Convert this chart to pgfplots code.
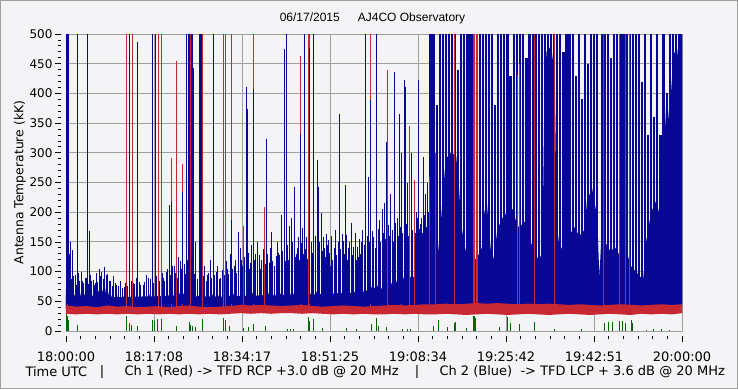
\documentclass[border=0pt]{standalone}
\usepackage{fontspec}
\setmainfont{DejaVu Sans}
\newfontfamily\titlefont{Liberation Sans}
\usepackage{pgfplots}
\pgfplotsset{compat=1.18}
\usepackage{pgfplotstable}
\definecolor{cblue}{RGB}{8,8,150}
\definecolor{cred}{RGB}{200,40,52}
\definecolor{cgreen}{RGB}{0,105,0}
\definecolor{gridgray}{RGB}{160,160,160}
\definecolor{bg}{RGB}{244,244,246}

% sparse blue spikes (minutes after 18:00, kK)
\pgfplotstableread{
t h
0.05 500
0.2 500
0.4 500
0.55 500
0.75 130
0.95 150
1.25 136
1.8 95
2.2 500
2.6 85
3.0 100
3.5 80
3.9 90
4.16 500
4.55 168
5.0 85
5.6 78
6.2 82
6.8 92
7.3 88
7.9 95
8.4 84
9.0 76
9.6 80
10.3 76
11.0 72
12.34 500
13.1 80
14.0 487
14.6 78
15.3 82
16.1 90
16.8 500
17.4 500
19.0 90
19.5 100
20.1 212
20.55 218
21.1 110
21.9 125
22.7 234
23.5 500
23.95 500
24.1 500
24.45 500
24.6 500
24.8 442
25.3 150
25.95 500
26.15 500
26.35 500
27.0 110
27.6 95
28.2 120
28.7 500
29.3 100
30.1 90
31.4 105
32.2 187
32.9 110
33.6 167
34.2 120
35.1 411
35.3 374
35.8 105
36.45 408
37.0 130
37.3 150
38.1 120
39.0 324
39.6 115
40.0 167
40.6 110
41.3 131
41.95 195
42.55 475
42.9 500
43.3 120
43.6 176
44.0 190
44.5 242
44.9 130
45.2 159
45.65 332
46.1 173
46.4 500
46.8 159
47.5 476
48.3 500
48.7 140
49.0 288
49.2 242
49.7 198
50.3 139
50.7 164
51.2 153
51.6 110
52.0 120
52.5 170
53.2 365
53.5 125
53.8 164
54.4 246
54.8 120
55.1 130
55.6 181
56.1 142
56.6 119
57.0 125
57.6 150
58.4 500
59.0 260
59.4 389
59.9 159
60.5 500
61.0 187
61.6 205
62.1 215
62.5 319
63.2 230
63.95 436
64.5 190
64.9 366
65.3 300
65.95 422
66.2 411
66.6 250
67.3 300
68.2 200
68.6 423
69.2 190
69.7 293
70.1 230
70.5 250
}\bluespikes

% small blue spikes (grass above the noise floor)
\pgfplotstableread{
t h
0.25 95
1.0 88
1.5 92
2.0 78
2.5 98
3.3 84
3.7 90
4.3 79
4.8 95
5.3 86
5.8 80
6.0 97
6.5 104
7.0 99
7.5 108
8.0 96
8.7 85
9.3 92
9.9 78
10.6 84
11.3 74
11.6 80
12.0 76
12.7 85
13.4 79
13.7 90
14.3 83
15.0 78
15.6 94
16.4 88
17.0 80
17.7 92
18.2 85
18.8 97
19.2 84
19.8 104
20.3 95
20.8 110
21.4 98
21.7 90
22.2 118
22.4 105
23.0 112
23.2 96
23.7 120
25.0 96
25.6 88
26.7 92
27.3 84
27.8 98
28.4 90
29.0 94
29.6 110
29.9 88
30.4 102
30.8 95
31.2 118
31.7 96
32.0 130
32.5 105
33.0 120
33.3 98
33.9 140
34.4 110
34.8 125
35.5 132
36.0 115
36.2 145
36.8 120
37.6 128
37.9 105
38.4 138
38.9 112
39.3 130
39.8 140
40.3 118
40.9 126
41.1 150
41.6 128
42.2 135
42.8 118
43.1 145
43.9 130
44.2 150
44.7 125
45.0 140
45.4 120
45.9 148
46.3 130
46.6 138
47.0 122
47.8 150
48.1 132
48.5 160
48.9 128
49.4 150
49.9 135
50.1 158
50.5 124
50.9 145
51.4 132
51.8 160
52.2 140
52.7 128
53.0 150
53.4 138
54.0 152
54.2 130
54.6 162
55.0 140
55.3 150
55.8 128
56.3 165
56.8 142
57.2 155
57.4 130
57.8 170
58.1 145
58.7 160
59.2 150
59.6 168
60.2 140
60.8 172
61.3 150
61.8 165
62.3 155
62.8 178
63.0 160
63.5 170
63.7 150
64.2 182
64.7 160
65.1 175
65.6 165
66.4 180
66.8 160
67.0 190
67.5 170
67.8 185
68.0 165
68.4 190
68.8 172
69.0 180
69.4 165
69.9 195
70.3 175
70.7 200
}\grass

% dense blue spikes
\pgfplotstableread{
t h
71.0 500
71.6 500
72.2 380
72.8 500
73.4 500
74.0 500
74.6 500
75.2 500
75.8 500
76.4 440
77.0 500
77.6 500
78.2 500
78.8 500
79.4 500
80.0 500
80.6 500
81.2 500
81.8 500
82.4 500
83.0 500
83.6 380
84.2 500
84.8 500
85.4 500
86.0 500
86.6 430
87.2 500
87.8 500
88.5 500
89.1 500
89.7 460
90.3 500
90.9 500
91.5 500
92.1 500
92.7 500
93.3 500
93.9 500
94.5 500
95.1 500
95.7 500
96.3 500
96.9 470
97.5 500
98.1 500
98.7 500
99.3 430
99.9 500
100.5 390
101.1 500
101.7 450
102.3 500
102.9 500
103.5 500
104.4 500
105.0 500
105.6 500
106.2 460
106.8 500
107.4 500
108.0 500
108.6 500
109.2 500
109.8 500
110.4 500
111.0 500
111.6 500
112.2 420
112.8 500
113.4 330
114.0 500
114.6 360
115.2 500
115.8 330
116.4 500
117.0 400
117.6 500
118.2 500
118.8 500
119.4 500
119.9 500
}\densespikes

% red spikes
\pgfplotstableread{
t h
0.3 500
11.8 500
12.9 500
18.05 500
18.55 500
20.55 292
21.6 455
22.7 281
24.25 500
26.5 500
30.7 500
31.1 500
32.2 500
34.5 176
36.5 500
38.7 209
45.65 463
47.25 500
47.4 500
59.4 500
62.6 439
65.3 215
66.9 345
67.9 254
70.8 260
72.0 300
75.6 500
79.3 500
79.6 500
79.9 500
80.2 500
87.9 431
88.3 450
91.2 500
95.2 500
104.8 500
107.9 500
108.9 500
109.8 500
}\redspikes

% green channel spikes
\pgfplotstableread{
t h
0.05 28
0.2 26
0.35 22
0.5 18
2.2 10
11.7 25
12.3 14
12.8 10
14.0 8
16.9 18
17.3 17
17.9 21
18.6 21
21.6 8
24.0 15
24.3 10
24.7 8
25.3 7
26.6 21
30.7 22
31.1 19
31.9 8
34.6 5
35.5 7
36.5 12
38.8 8
43.2 3
43.8 4
44.3 3
47.3 23
47.5 17
48.3 21
50.0 5
54.7 5
56.5 4
59.5 11
60.5 22
60.8 8
62.4 7
65.5 3
66.5 3
67.2 4
71.5 8
72.6 18
74.4 7
75.6 14
75.9 15
78.0 5
79.4 26
79.6 25
79.8 22
84.5 7
86.1 24
86.6 14
88.4 11
91.3 15
95.2 4
100.4 4
104.9 14
105.6 15
106.4 15
107.9 17
108.5 17
109.0 14
110.1 18
110.4 14
113.0 2
114.5 3
116.0 3
117.5 2
}\greenspikes

\pgfplotsset{spikes/.style={draw=none, mark=none, mark size=0pt, forget plot,
  error bars/.cd, y dir=minus, y explicit, error mark=none}}

\begin{document}
\begin{tikzpicture}
\useasboundingbox (-66pt,-58pt) rectangle (672pt,331pt);
\fill[bg] (-66pt,-58pt) rectangle (672pt,331pt);
\draw[gray!75, line width=1.4pt] (-65.3pt,-57.3pt) rectangle (671.3pt,330.3pt);
\begin{axis}[
  at={(0pt,0pt)}, anchor=south west,
  width=616pt, height=297pt, scale only axis,
  xmin=0, xmax=120, ymin=0, ymax=500,
  axis background/.style={fill=bg},
  xtick={0,17.142857,34.285714,51.428571,68.571429,85.714286,102.857143,120},
  xticklabels={18:00:00,18:17:08,18:34:17,18:51:25,19:08:34,19:25:42,19:42:51,20:00:00},
  minor x tick num=5,
  ytick={0,50,...,500}, minor y tick num=4,
  xtick pos=bottom, ytick pos=left,
  grid=major,
  major grid style={draw=gridgray, line width=0.9pt},
  axis line style={draw=gridgray, line width=0.9pt},
  tick align=outside,
  major tick length=6pt, minor tick length=3pt,
  every tick/.style={black, line width=0.8pt},
  xtick style={yshift=-4.5pt},
  ytick style={xshift=-5pt},
  yticklabel style={font=\fontsize{12}{14}\selectfont, xshift=-4pt},
  xticklabel style={font=\fontsize{13}{15}\selectfont, yshift=-11pt},
  /pgf/number format/assume math mode=true,
]
% blue channel solid floor
\addplot[fill=cblue, draw=none, forget plot] coordinates {
(0,38) (0,70) (0.3,58) (0.6,75) (0.9,62) (1.2,68)
(1.5,56) (1.8,63) (2.1,52) (2.4,60) (2.7,66) (3.0,54) (3.3,59) (3.6,62) (3.9,51) (4.2,64) (4.5,57) (4.8,55) (5.1,61) (5.4,53) (5.7,66) (6.0,58)
(6.3,68) (6.6,60) (6.9,74) (7.2,65) (7.5,79) (7.8,62) (8.1,70) (8.4,58)
(8.7,55) (9.0,61) (9.3,52) (9.6,58) (9.9,63) (10.2,50) (10.5,57) (10.8,54) (11.1,60)
(11.4,52) (11.7,48) (12.0,56) (12.3,50) (12.6,54) (12.9,47) (13.2,55) (13.5,51) (13.8,58) (14.1,49)
(14.4,57) (14.7,52) (15.0,60) (15.3,54) (15.6,49) (15.9,58) (16.2,62) (16.5,53) (16.8,57) (17.1,50) (17.4,61) (17.7,55) (18.0,59) (18.3,52) (18.6,63) (18.9,56) (19.2,54) (19.5,60) (19.8,58)
(20.1,61) (20.4,56) (20.7,66) (21.0,58) (21.3,63) (21.6,55) (21.9,68) (22.2,60) (22.5,57) (22.8,64) (23.1,59) (23.4,70) (23.7,62) (24.0,58) (24.3,66) (24.6,60) (24.9,63)
(25.2,57) (25.5,52) (25.8,60) (26.1,55) (26.4,58) (26.7,53) (27.0,59)
(27.3,55) (27.6,60) (27.9,53) (28.2,58) (28.5,62) (28.8,54) (29.1,57) (29.4,51) (29.7,59) (30.0,63) (30.3,55) (30.6,58) (30.9,52) (31.2,61) (31.5,56) (31.8,60) (32.1,54) (32.4,58) (32.7,63) (33.0,55) (33.3,59) (33.6,52) (33.9,57) (34.2,61) (34.5,56) (34.8,60)
(35.1,58) (35.4,63) (35.7,55) (36.0,60) (36.3,65) (36.6,57) (36.9,62) (37.2,54) (37.5,59) (37.8,66) (38.1,58) (38.4,61) (38.7,56) (39.0,63) (39.3,59) (39.6,67) (39.9,60) (40.2,55) (40.5,62) (40.8,58) (41.1,64) (41.4,57) (41.7,61) (42.0,66) (42.3,59) (42.6,63) (42.9,56) (43.2,62) (43.5,68) (43.8,60) (44.1,58) (44.4,64) (44.7,61) (45.0,57)
(45.3,62) (45.6,58) (45.9,66) (46.2,60) (46.5,64) (46.8,57) (47.1,63) (47.4,68) (47.7,60) (48.0,65) (48.3,58) (48.6,62) (48.9,67) (49.2,61) (49.5,59) (49.8,66) (50.1,63) (50.4,58) (50.7,64) (51.0,69) (51.3,61) (51.6,65) (51.9,60) (52.2,63) (52.5,68) (52.8,62) (53.1,66) (53.4,59) (53.7,64) (54.0,70) (54.3,62) (54.6,67) (54.9,63)
(55.2,66) (55.5,61) (55.8,70) (56.1,64) (56.4,68) (56.7,62) (57.0,72) (57.3,66) (57.6,69) (57.9,64) (58.2,74) (58.5,67) (58.8,71) (59.1,65) (59.4,76) (59.7,70) (60.0,73)
(60.5,72) (61,82) (61.5,70) (62,86) (62.5,75) (63,88) (63.5,78) (64,92) (64.5,80) (65,94) (65.5,82) (66,96) (66.5,84) (67,92) (67.5,86) (68,98) (68.5,88) (69,100) (69.5,90) (70,102) (70.5,94) (71,108) (71.5,100) (72,112)
(72.5,135) (73,180) (73.5,240) (74,290) (75,300) (76,295) (76.5,250) (77,180) (77.5,150) (78,130) (79,118) (80,122) (81,140) (81.5,200) (82,215) (82.5,160) (83,115) (83.5,130) (84,170) (85,190) (86,200) (87,205) (88,175) (89,180) (90,190) (90.5,150) (91,140) (92,120) (92.8,130) (93.2,400) (93.6,470) (94.5,480) (95.2,430) (95.6,180) (96,150) (97,130) (98,160) (99,175) (100,160) (101,170) (101.5,220) (102.5,240) (103.5,190) (103.9,90) (104.3,160) (105,150) (106,135) (107,140) (108,125) (109,140) (110,110) (111,100) (112,90) (112.3,77) (112.7,110) (113,150) (114,200) (115,220) (116,180) (116.5,300) (117,400) (117.5,350) (118,420) (118.5,470) (119,460) (119.5,500) (120,500) (120,38)
} -- cycle;
% blue channel solid core of the noise band
\addplot[fill=cblue, draw=none, forget plot] coordinates {
(0,38) (0,60) (10,57) (20,59) (30,58) (40,60) (50,62) (60,66) (60,38)
} -- cycle;
% dense blue spikes
\addplot[spikes, error bar style={draw=cblue, line width=2.2pt, solid}]
  table[x=t, y=h, y error expr=\thisrow{h}-45] {\densespikes};
% small blue spikes
\addplot[spikes, error bar style={draw=cblue, line width=0.9pt, solid}]
  table[x=t, y=h, y error expr=\thisrow{h}-45] {\grass};
% red spikes
\addplot[spikes, error bar style={draw=cred, line width=1pt, solid}]
  table[x=t, y=h, y error expr=\thisrow{h}-40] {\redspikes};
% sparse blue spikes
\addplot[spikes, error bar style={draw=cblue, line width=1pt, solid}]
  table[x=t, y=h, y error expr=\thisrow{h}-45] {\bluespikes};
% red channel band
\addplot[fill=cred, draw=none, forget plot] coordinates {
(0,43) (2,41) (4,42) (6,40) (8,43) (10,41) (12,42) (14,40) (16,41) (18,42) (20,40) (22,42) (24,43) (26,41) (28,40) (30,41) (32,42) (34,44) (36,43) (38,44) (40,43) (42,42) (44,43) (46,44) (48,42) (50,41) (52,42) (54,43) (56,42) (58,41) (60,42) (62,43) (64,44) (66,43) (68,44) (70,45) (72,45) (74,46) (76,45) (78,46) (80,47) (82,46) (84,47) (86,46) (88,45) (90,46) (92,45) (94,46) (96,45) (98,44) (100,45) (102,44) (104,43) (106,44) (108,45) (110,44) (112,43) (114,44) (116,45) (118,44) (120,45)
(120,30) (118,28) (116,29) (114,28) (112,29) (110,27) (108,28) (106,29) (104,28) (102,27) (100,28) (98,29) (96,28) (94,27) (92,28) (90,29) (88,28) (86,27) (84,28) (82,29) (80,28) (78,27) (76,28) (74,29) (72,28) (70,28) (68,29) (66,28) (64,29) (62,28) (60,28) (58,29) (56,28) (54,29) (52,28) (50,29) (48,30) (46,29) (44,30) (42,30) (40,29) (38,30) (36,29) (34,30) (32,29) (30,28) (28,29) (26,28) (24,29) (22,28) (20,29) (18,28) (16,29) (14,28) (12,29) (10,28) (8,29) (6,28) (4,29) (2,28) (0,29)
} -- cycle;
% green channel
\addplot[ycomb, cgreen, line width=1pt, mark=none, forget plot] table[x=t, y=h] {\greenspikes};
\end{axis}
\node[font=\titlefont\fontsize{12}{14}\selectfont] at (306.5pt,313pt) {06/17/2015\hspace{18pt}AJ4CO Observatory};
\node[rotate=90, font=\fontsize{12.4}{14}\selectfont] at (-46pt,148.5pt) {Antenna Temperature (kK)};
\node[anchor=west, font=\fontsize{13}{15}\selectfont] at (-44pt,-41pt) {Time UTC};
\node[font=\fontsize{13}{15}\selectfont] at (36pt,-41pt) {|};
\node[anchor=west, font=\fontsize{13}{15}\selectfont] at (55pt,-41pt) {Ch 1 (Red) -> TFD RCP +3.0 dB @ 20 MHz};
\node[font=\fontsize{13}{15}\selectfont] at (351pt,-41pt) {|};
\node[anchor=west, font=\fontsize{13}{15}\selectfont] at (370pt,-41pt) {Ch 2 (Blue)\ \ -> TFD LCP + 3.6 dB @ 20 MHz};
\end{tikzpicture}
\end{document}
